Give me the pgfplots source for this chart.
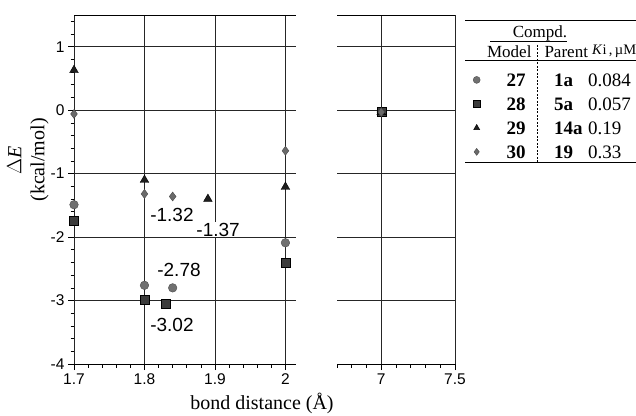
\documentclass[border=0pt]{standalone}
\usepackage{pgfplots}
\pgfplotsset{compat=1.18}
\usepackage{fontspec}
\setmainfont{Liberation Serif}
\newfontfamily\helv{Liberation Sans}
\definecolor{cA}{HTML}{707070}
\definecolor{cB}{HTML}{3C3C3C}
\definecolor{cC}{HTML}{1E1E1E}
\definecolor{cD}{HTML}{6A6A6A}
\pgfplotsset{
  brk/.style={
    scale only axis, height=349pt, anchor=south west,
    ymin=-4, ymax=1.5, ytick={-4,-3,-2,-1,0,1},
    grid=major, major grid style={black!85, line width=0.75pt},
    separate axis lines,
    x axis line style={black, line width=0.8pt},
    y axis line style={draw=none},
    tick align=outside, xtick pos=left,
    major tick length=6pt, minor tick length=3.5pt,
    every tick/.style={black, line width=0.7pt},
    /pgf/number format/assume math mode=true,
    ticklabel style={font=\helv\fontsize{15.5}{17}\selectfont},
    clip=false,
  },
  s27/.style={only marks, mark=*, mark size=4.3pt, mark options={fill=cA, draw=cA!70!black}},
  s28/.style={only marks, mark=square*, mark size=4.5pt, mark options={fill=cB, draw=black}},
  s29/.style={only marks, mark=triangle*, mark size=5pt, mark options={fill=cC, draw=black}},
  s30/.style={only marks, mark=diamond*, mark size=4.5pt, mark options={fill=cD, draw=cD!70!black}},
}
\newcommand{\legrow}[3]{\hspace{12pt}\makebox[48pt][c]{\textbf{#1}}\hspace{14pt}\makebox[34pt][l]{\textbf{#2}}#3}
\begin{document}
\begin{tikzpicture}[x=1pt,y=1pt]
\useasboundingbox (0,0) rectangle (636,415);
% left panel
\begin{axis}[brk, at={(74pt,51pt)}, width=222pt,
  xmin=1.7, xmax=2.015, xtick={1.7,1.8,1.9,2},
  minor xtick={1.72,1.74,1.76,1.78,1.82,1.84,1.86,1.88,1.92,1.94,1.96,1.98},
  minor ytick={-3.8,-3.6,-3.4,-3.2,-2.8,-2.6,-2.4,-2.2,-1.8,-1.6,-1.4,-1.2,-0.8,-0.6,-0.4,-0.2,0.2,0.4,0.6,0.8,1.2,1.4},
  ytick pos=left]
\addplot[s27] coordinates {(1.7,-1.49) (1.8,-2.76) (1.84,-2.80) (2.0,-2.09)};
\addplot[s28] coordinates {(1.7,-1.74) (1.8,-2.98) (1.83,-3.05) (2.0,-2.41)};
\addplot[s29] coordinates {(1.7,0.63) (1.8,-1.10) (1.89,-1.40) (2.0,-1.21)};
\addplot[s30] coordinates {(1.7,-0.06) (1.8,-1.32) (1.84,-1.36) (2.0,-0.64)};
\node[font=\helv\fontsize{19}{21}\selectfont, inner sep=1pt] at (axis cs:1.839,-1.65) {-1.32};
\node[font=\helv\fontsize{19}{21}\selectfont, inner sep=1pt, fill=white] at (axis cs:1.9045,-1.88) {-1.37};
\node[font=\helv\fontsize{19}{21}\selectfont, inner sep=1pt] at (axis cs:1.849,-2.52) {-2.78};
\node[font=\helv\fontsize{19}{21}\selectfont, inner sep=1pt] at (axis cs:1.839,-3.39) {-3.02};
\end{axis}
% right panel
\begin{axis}[brk, at={(337pt,51pt)}, width=118pt,
  xmin=6.7, xmax=7.5, xtick={7,7.5},
  minor xtick={6.7,6.8,6.9,7.1,7.2,7.3,7.4},
  yticklabels={}, ytick style={draw=none},
  legend style={draw=none, fill=none, inner sep=0pt, row sep=0pt,
    nodes={inner sep=0pt, text height=18.5pt, text depth=5.5pt, font=\fontsize{19}{21}\selectfont},
    at={(axis description cs:1.1525,0.849)}, anchor=north west},
  legend cell align=left,
  legend image post style={mark size=3.5pt}]
\addplot[s27] coordinates {(7,-0.03)};
\addlegendentry{\legrow{27}{1a}{0.084}}
\addplot[s28] coordinates {(7,-0.03)};
\addlegendentry{\legrow{28}{5a}{0.057}}
\addplot[s29] coordinates {(7,-0.03)};
\addlegendentry{\legrow{29}{14a}{0.19}}
\addplot[s30] coordinates {(7,-0.03)};
\addlegendentry{\legrow{30}{19}{0.33}}
\end{axis}
% axis labels
\node[rotate=90, align=center, font=\fontsize{20}{23}\selectfont] at (28,255) {$\Delta$\textit{E}\\(kcal/mol)};
\node[font=\fontsize{20}{23}\selectfont] at (262,12) {bond distance (Å)};
% legend table rules
\draw[line width=0.8pt] (465,394.3) -- (636,394.3);
\node[font=\fontsize{17}{19}\selectfont] at (540,382) {Compd.};
\draw[line width=0.7pt] (490,373.3) -- (567,373.3);
\node[font=\fontsize{17}{19}\selectfont, anchor=east] at (535,363.3) {Model};
\node[font=\fontsize{17}{19}\selectfont, anchor=west] at (541,363.3) {Parent};
\node[font=\fontsize{14.5}{16}\selectfont, anchor=west, inner sep=0pt] at (592,363.3) {\textit{K}i\,,\,µM};
\draw[line width=0.8pt] (465,355) -- (636,355);
\draw[line width=0.8pt] (465,253) -- (636,253);
\draw[line width=0.6pt, dash pattern=on 2pt off 1.5pt] (537,370) -- (537,253);
\end{tikzpicture}
\end{document}
